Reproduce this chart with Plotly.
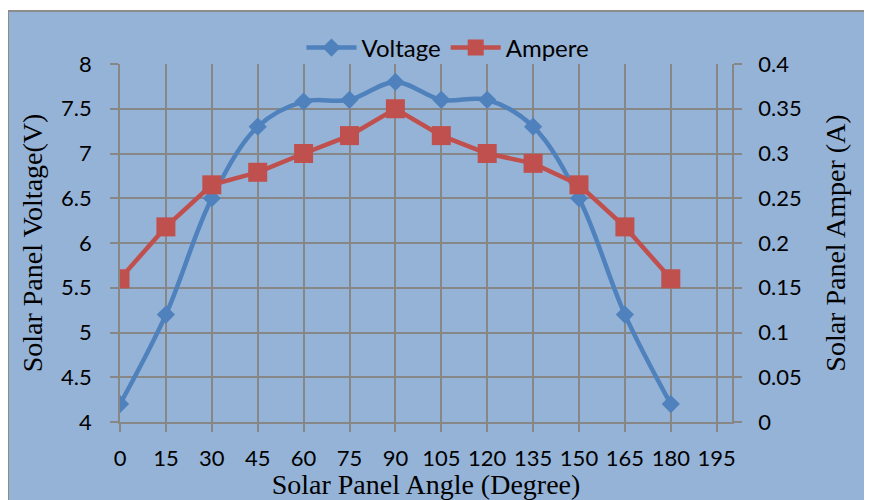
import plotly.graph_objects as go

angles = [0, 15, 30, 45, 60, 75, 90, 105, 120, 135, 150, 165, 180]
voltage = [4.2, 5.2, 6.5, 7.3, 7.58, 7.6, 7.8, 7.6, 7.6, 7.3, 6.5, 5.2, 4.2]
ampere = [0.16, 0.218, 0.265, 0.279, 0.30, 0.32, 0.35, 0.32, 0.30, 0.289, 0.265, 0.218, 0.16]

BLUE = "#4F81BD"
RED = "#C0504D"
BG = "#95B3D7"
GRID = "#878787"
TICKFONT = dict(family="Lato, Carlito, sans-serif", size=22, color="black")
LEGFONT = dict(family="Lato, Carlito, sans-serif", size=24, color="black")
TITLEFONT = dict(family="Liberation Serif, Times New Roman, serif", size=28, color="black")

fig = go.Figure()
fig.add_trace(go.Scatter(
    x=angles, y=voltage, name="Voltage", mode="lines+markers",
    line=dict(color=BLUE, width=4.5, shape="spline", smoothing=1.0),
    marker=dict(symbol="diamond", size=14, color=BLUE, line=dict(width=0)),
    yaxis="y",
))
fig.add_trace(go.Scatter(
    x=angles, y=ampere, name="Ampere", mode="lines+markers",
    line=dict(color=RED, width=4.5),
    marker=dict(symbol="square", size=19, color=RED, line=dict(width=0)),
    yaxis="y2",
))

# page body has an 8px offset; margins are set so the plot lands where the reference has it
OFF = 8
W, H = 880, 492
L, T = 120 - OFF, 64 - OFF
R = W - (732 - OFF)
B = H - (422 - OFF)
pw, ph = W - L - R, H - T - B

def px_x(sx):
    return (sx - OFF - L) / pw

def px_y(sy):
    return (H - B - (sy - OFF)) / ph

fig.add_shape(type="rect", xref="paper", yref="paper",
              x0=px_x(8), x1=px_x(900), y0=px_y(560), y1=px_y(11),
              fillcolor=BG, line=dict(color="#8C8C8C", width=2), layer="below")

axis_common = dict(
    showgrid=True, gridcolor=GRID, gridwidth=1.8,
    showline=True, linecolor=GRID, linewidth=1.8,
    ticks="outside", ticklen=8, tickcolor=GRID, tickwidth=1.8,
    tickfont=TICKFONT, zeroline=False, automargin=False,
)

fig.update_layout(
    width=W, height=H,
    margin=dict(l=L, r=R, t=T, b=B, pad=0, autoexpand=False),
    paper_bgcolor="white", plot_bgcolor="white",
    showlegend=True,
    legend=dict(orientation="h", x=px_x(448), y=px_y(48), xanchor="center", yanchor="middle",
                font=LEGFONT, bgcolor="rgba(0,0,0,0)", itemwidth=50, tracegroupgap=0),
    xaxis=dict(range=[0, 200], tick0=0, dtick=15, ticklabelstandoff=8,
               title=dict(text="Solar Panel Angle (Degree)", font=TITLEFONT, standoff=4),
               **axis_common),
    yaxis=dict(range=[4, 8], tick0=4, dtick=0.5, ticklabelstandoff=14,
               title=dict(text="Solar Panel Voltage(V)", font=TITLEFONT, standoff=10),
               **axis_common),
    yaxis2=dict(range=[0, 0.4], tick0=0, dtick=0.05, overlaying="y", side="right",
                ticklabelstandoff=12,
                title=dict(text="Solar Panel Amper (A)", font=TITLEFONT, standoff=25),
                **{**axis_common, "showgrid": False}),
)

fig.write_html("out.html")
